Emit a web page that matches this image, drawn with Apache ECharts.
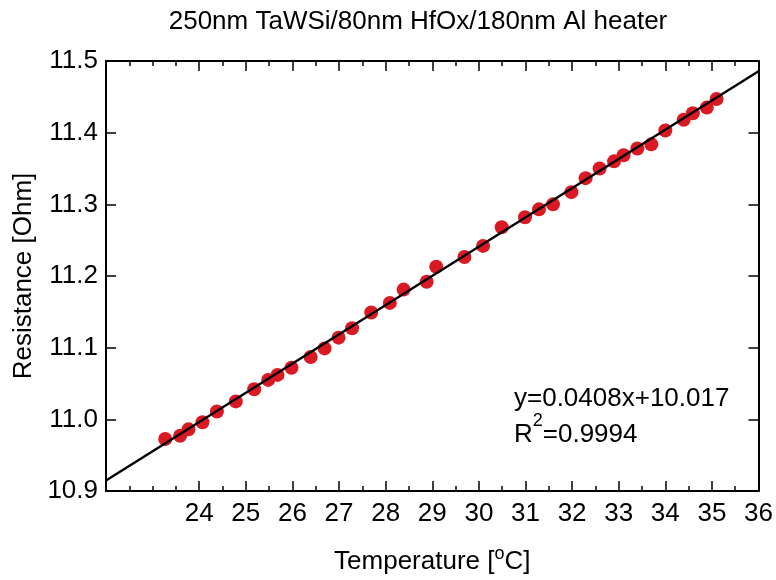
<!DOCTYPE html>
<html>
<head>
<meta charset="utf-8">
<script src="https://cdn.jsdelivr.net/npm/echarts@6/dist/echarts.min.js"></script>
<style>
  html, body { margin: 0; padding: 0; background: #fff; }
  #chart { width: 776px; height: 580px; }
</style>
</head>
<body>
<div id="chart"></div>
<script>
// Heater resistance versus temperature with a linear fit
const temperature = [
  23.27, 23.59, 23.77, 24.07, 24.38, 24.785, 25.18, 25.48, 25.68, 25.98,
  26.39, 26.69, 26.99, 27.28, 27.69, 28.09, 28.385, 28.88, 29.085, 29.69,
  30.09, 30.49, 30.99, 31.29, 31.59, 31.985, 32.29, 32.59, 32.90, 33.105,
  33.40, 33.70, 34.00, 34.395, 34.59, 34.89, 35.10
];
const resistance = [
  10.9725, 10.977, 10.986, 10.996, 11.011, 11.025, 11.042, 11.055, 11.062, 11.072,
  11.087, 11.099, 11.114, 11.127, 11.149, 11.1625, 11.181, 11.192, 11.213, 11.2266,
  11.242, 11.268, 11.282, 11.293, 11.300, 11.317, 11.3365, 11.350, 11.360, 11.3685,
  11.378, 11.3837, 11.403, 11.418, 11.427, 11.435, 11.447
];
const fitSlope = 0.0408;
const fitIntercept = 10.017;
const fitRange = [22, 36];
const xLabelTicks = [24, 25, 26, 27, 28, 29, 30, 31, 32, 33, 34, 35, 36];

const FONT = 'Liberation Sans, Arial, Helvetica, sans-serif';
const FS = 26;
const AXIS_COLOR = '#000';

const points = temperature.map((t, i) => [t, resistance[i]]);
const fitLine = fitRange.map(t => [t, fitSlope * t + fitIntercept]);

function minorX(position) {
  return {
    type: 'value', min: 22, max: 36, interval: 0.5, position,
    axisLine: { show: true, onZero: false, lineStyle: { color: AXIS_COLOR, width: 2 } },
    axisTick: { show: true, inside: true, length: 5, lineStyle: { color: AXIS_COLOR, width: 1.5 } },
    axisLabel: { show: false },
    splitLine: { show: false }
  };
}
function majorX(position, withLabels) {
  return {
    type: 'value', min: 22, max: 36, interval: 1, position,
    axisLine: { show: false, onZero: false },
    axisTick: { show: true, inside: true, length: 10, customValues: xLabelTicks,
                lineStyle: { color: AXIS_COLOR, width: 1.5 } },
    axisLabel: withLabels ? {
      show: true, customValues: xLabelTicks, margin: 10,
      color: '#000', fontFamily: FONT, fontSize: FS,
      formatter: v => (v >= 24 ? String(v) : '')
    } : { show: false },
    splitLine: { show: false },
    name: withLabels ? '{t|Temperature [}{s|o}{t|C]}' : '',
    nameLocation: 'middle',
    nameGap: 54,
    nameTextStyle: {
      rich: {
        t: { fontFamily: FONT, fontSize: FS, color: '#000', verticalAlign: 'bottom', lineHeight: 30 },
        s: { fontFamily: FONT, fontSize: 18, color: '#000', verticalAlign: 'top', lineHeight: 30, padding: [0, 0, 8, 0] }
      }
    }
  };
}
function yAxisSide(position, withLabels) {
  return {
    type: 'value', min: 10.9, max: 11.5, interval: 0.1, position,
    axisLine: { show: true, onZero: false, lineStyle: { color: AXIS_COLOR, width: 2 } },
    axisTick: { show: true, inside: true, length: 10, lineStyle: { color: AXIS_COLOR, width: 1.5 } },
    axisLabel: withLabels ? {
      show: true, margin: 8, color: '#000', fontFamily: FONT, fontSize: FS,
      formatter: v => v.toFixed(1)
    } : { show: false },
    splitLine: { show: false },
    name: withLabels ? 'Resistance [Ohm]' : '',
    nameLocation: 'middle',
    nameGap: 67,
    nameTextStyle: { fontFamily: FONT, fontSize: FS, color: '#000' }
  };
}

const chart = echarts.init(document.getElementById('chart'), null, { renderer: 'canvas' });
chart.setOption({
  backgroundColor: '#fff',
  animation: false,
  title: {
    text: '250nm TaWSi/80nm HfOx/180nm Al heater',
    left: 413, top: 4, textAlign: 'center',
    textStyle: { fontFamily: FONT, fontSize: FS, fontWeight: 'normal', color: '#000' }
  },
  grid: { left: 106, right: 15, top: 61, bottom: 82, containLabel: false },
  xAxis: [minorX('bottom'), majorX('bottom', true), minorX('top'), majorX('top', false)],
  yAxis: [yAxisSide('left', true), yAxisSide('right', false)],
  graphic: [{
    type: 'text',
    left: 514, top: 386,
    style: {
      text: '{n|y=0.0408x+10.017}\n{n|R}{s|2}{n|=0.9994}',
      rich: {
        n: { fontFamily: FONT, fontSize: FS, fill: '#000', lineHeight: 36, verticalAlign: 'bottom' },
        s: { fontFamily: FONT, fontSize: 18, fill: '#000', lineHeight: 36, verticalAlign: 'top', padding: [0, 0, 10, 0] }
      }
    }
  }],
  series: [
    {
      type: 'scatter', xAxisIndex: 0, yAxisIndex: 0,
      data: points, symbol: 'circle', symbolSize: 14,
      itemStyle: { color: '#d91a22', opacity: 1 }, z: 2
    },
    {
      type: 'line', xAxisIndex: 0, yAxisIndex: 0,
      data: fitLine, showSymbol: false, symbol: 'none',
      lineStyle: { color: '#000', width: 2.4 }, z: 3
    }
  ]
});
</script>
</body>
</html>
